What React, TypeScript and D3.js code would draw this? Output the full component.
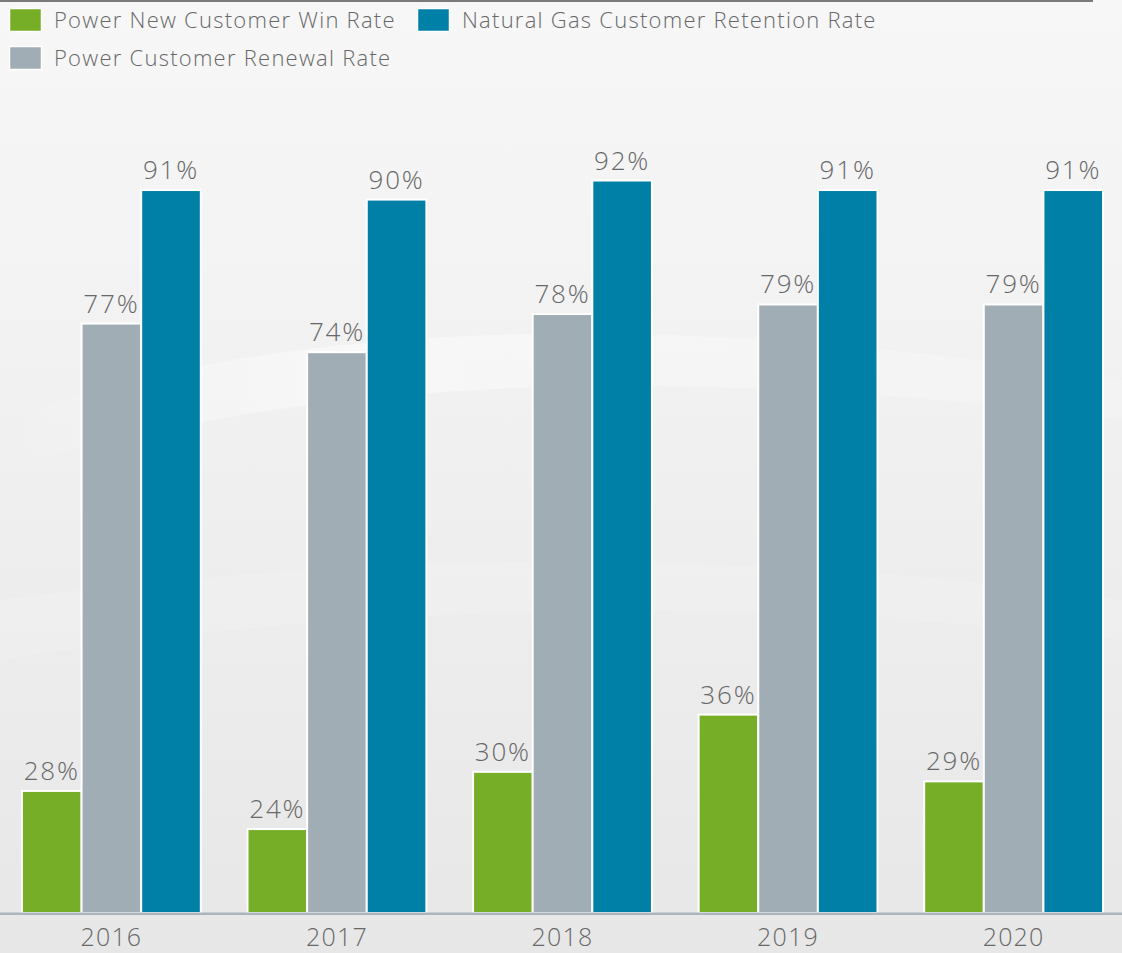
import React from "react";
import * as d3 from "d3";

const years = ["2016", "2017", "2018", "2019", "2020"];
const seriesNames = [
  "Power New Customer Win Rate",
  "Power Customer Renewal Rate",
  "Natural Gas Customer Retention Rate",
];
const winRate = [28, 24, 30, 36, 29];
const renewalRate = [77, 74, 78, 79, 79];
const retentionRate = [91, 90, 92, 91, 91];
const seriesColors = ["#76ae28", "#a1adb4", "#0080a6"];

const W = 1122;
const H = 953;
const FONT = "'Open Sans', 'DejaVu Sans', sans-serif";
const TEXT = "#686868";

export default function App() {
  const series = [winRate, renewalRate, retentionRate];
  const x0 = d3
    .scaleBand<string>()
    .domain(years)
    .range([-0.6, 1125.6])
    .paddingInner(0.207)
    .paddingOuter(0.1);
  const x1 = d3
    .scaleBand<number>()
    .domain([0, 1, 2])
    .range([0, x0.bandwidth()])
    .padding(0);
  const y = d3.scaleLinear().domain([15.2, 92]).range([913, 180.5]);

  const legendItems = [
    { i: 0, x: 9, y: 8 },
    { i: 2, x: 417, y: 8 },
    { i: 1, x: 9, y: 46 },
  ];

  return (
    <svg
      width={W}
      height={H}
      style={{ position: "absolute", left: 0, top: 0, display: "block" }}
      fontFamily={FONT}
      fontWeight={300}
    >
      <defs>
        <linearGradient id="bg" x1="0" y1="0" x2="0" y2="1">
          <stop offset="0" stopColor="#f7f7f8" />
          <stop offset="0.35" stopColor="#f2f2f3" />
          <stop offset="0.7" stopColor="#ececed" />
          <stop offset="1" stopColor="#e7e7e7" />
        </linearGradient>
        <linearGradient id="swoosh" x1="0" y1="0" x2="1" y2="0">
          <stop offset="0" stopColor="#ffffff" stopOpacity="0.0" />
          <stop offset="0.3" stopColor="#ffffff" stopOpacity="0.45" />
          <stop offset="1" stopColor="#ffffff" stopOpacity="0.12" />
        </linearGradient>
      </defs>
      <rect x={0} y={0} width={W} height={H} fill="url(#bg)" />
      <path
        d="M0,420 C250,330 600,300 1122,380 L1122,420 C650,360 300,380 0,470 Z"
        fill="url(#swoosh)"
      />
      <path
        d="M0,600 C300,560 700,540 1122,600 L1122,640 C700,590 300,610 0,660 Z"
        fill="#ffffff"
        opacity={0.15}
      />
      {/* top rule */}
      <rect x={0} y={0} width={1093} height={2} fill="#7a7a7a" />

      {/* legend */}
      {legendItems.map((d) => (
        <g key={d.i} transform={`translate(${d.x},${d.y})`}>
          <rect
            x={0.5}
            y={0.5}
            width={32}
            height={23}
            fill={seriesColors[d.i]}
            stroke="#ffffff"
            strokeWidth={1.5}
          />
          <text x={45} y={20} fontSize={22} letterSpacing={1.25} fill={TEXT}>
            {seriesNames[d.i]}
          </text>
        </g>
      ))}

      {/* bars */}
      {years.map((yr, gi) => (
        <g key={yr} transform={`translate(${x0(yr)},0)`}>
          {series.map((s, si) => {
            const v = s[gi];
            const bx = x1(si)!;
            const bw = x1.bandwidth();
            const top = y(v);
            return (
              <g key={si}>
                <rect
                  x={bx}
                  y={top}
                  width={bw}
                  height={y(15.2) - top}
                  fill={seriesColors[si]}
                  stroke="#ffffff"
                  strokeWidth={2}
                />
                <text
                  x={bx + bw / 2}
                  y={top - 11}
                  textAnchor="middle"
                  fontSize={26}
                  letterSpacing={1.8}
                  fill={TEXT}
                >
                  {v}%
                </text>
              </g>
            );
          })}
        </g>
      ))}

      {/* axis */}
      <rect x={0} y={912.5} width={W} height={2.5} fill="#a9b5bf" />
      {years.map((yr) => (
        <text
          key={yr}
          x={x0(yr)! + x0.bandwidth() / 2}
          y={946}
          textAnchor="middle"
          fontSize={25}
          letterSpacing={1.2}
          fill={TEXT}
        >
          {yr}
        </text>
      ))}
    </svg>
  );
}
